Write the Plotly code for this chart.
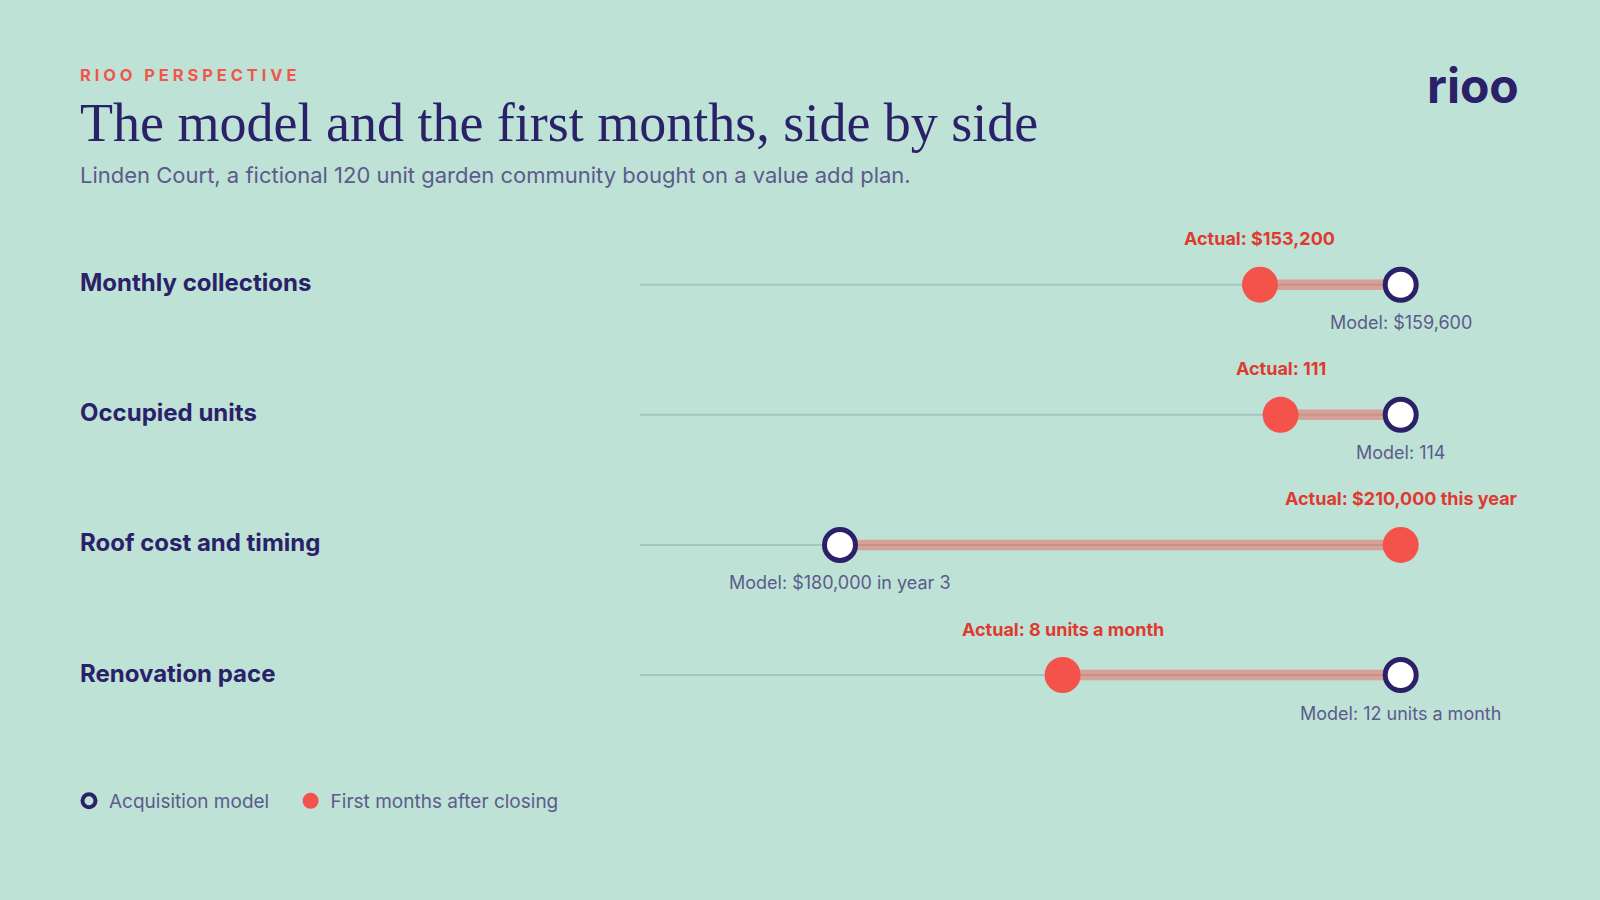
import plotly.graph_objects as go

# ---- data ----
categories = ["Monthly collections", "Occupied units", "Roof cost and timing", "Renovation pace"]
model_values = [159600, 114, 180000, 12]
actual_values = [153200, 111, 210000, 8]
model_labels = ["Model: $159,600", "Model: 114", "Model: $180,000 in year 3", "Model: 12 units a month"]
actual_labels = ["Actual: $153,200", "Actual: 111", "Actual: $210,000 this year", "Actual: 8 units a month"]
# per-row scale (each row has its own axis)
row_scale_low = [125000, 95, 169300, 3]
row_scale_high = [159600, 114, 210000, 12]
legend_names = ["Acquisition model", "First months after closing"]

# ---- style ----
BG = "#bee2d6"
NAVY = "#2b2169"
RED = "#f4534b"
RED_TEXT = "#de3a30"
MUTED = "#5d5a8c"
TRACK = "#a5c5bf"
BAR = "rgba(244,83,75,0.45)"
SANS = "Inter"
SERIF = "Liberation Serif"

W, H = 1600, 900
fig = go.Figure()

annotations = []
shapes = []
for i, cat in enumerate(categories):
    n = "" if i == 0 else str(i + 1)
    xa = "x" + n
    shapes.append(dict(type="line", xref=xa + " domain", yref="y", x0=0, x1=1,
                       y0=cat, y1=cat, line=dict(color=TRACK, width=2), layer="below"))
    fig.add_trace(go.Scatter(x=[actual_values[i], model_values[i]], y=[cat, cat], xaxis=xa, yaxis="y",
                             mode="lines", line=dict(color=BAR, width=10.5), showlegend=False,
                             hoverinfo="skip", cliponaxis=False))
    fig.add_trace(go.Scatter(x=[actual_values[i]], y=[cat], xaxis=xa, yaxis="y", mode="markers",
                             marker=dict(size=36, color=RED, line=dict(width=0)), showlegend=False,
                             name=legend_names[1], cliponaxis=False))
    fig.add_trace(go.Scatter(x=[model_values[i]], y=[cat], xaxis=xa, yaxis="y", mode="markers",
                             marker=dict(size=31, color="white", line=dict(width=5, color=NAVY)),
                             showlegend=False, name=legend_names[0], cliponaxis=False))
    annotations.append(dict(x=actual_values[i], y=cat, xref=xa, yref="y", text="<b>" + actual_labels[i] + "</b>",
                            showarrow=False, yshift=46, xanchor="center", yanchor="middle",
                            font=dict(family=SANS, size=18, color=RED_TEXT)))
    annotations.append(dict(x=model_values[i], y=cat, xref=xa, yref="y", text=model_labels[i],
                            showarrow=False, yshift=-38, xanchor="center", yanchor="middle",
                            font=dict(family=SANS, size=18, color=MUTED)))
    annotations.append(dict(x=78 / W, y=cat, xref="paper", yref="y", text="<b>" + cat + "</b>",
                            showarrow=False, yshift=2, xanchor="left", yanchor="middle",
                            font=dict(family=SANS, size=24, color=NAVY)))

# legend-only traces
fig.add_trace(go.Scatter(x=[None], y=[None], mode="markers", name=legend_names[0] + "\u2002\u2009\u2009",
                         marker=dict(size=13, color=BG, line=dict(width=4, color=NAVY))))
fig.add_trace(go.Scatter(x=[None], y=[None], mode="markers", name=legend_names[1],
                         marker=dict(size=17, color=RED, line=dict(width=0))))

kicker = "\u2009\u200a".join(list("RIOO PERSPECTIVE"))
annotations += [
    dict(x=78 / W, y=1 - 74.9 / H, xref="paper", yref="paper", text="<b>" + kicker + "</b>",
         showarrow=False, xanchor="left", yanchor="middle",
         font=dict(family=SANS, size=16.5, color="#f0564c")),
    dict(x=78 / W, y=1 - 123 / H, xref="paper", yref="paper",
         text="The model and the first months, side by side",
         showarrow=False, xanchor="left", yanchor="middle",
         font=dict(family=SERIF, size=54, color=NAVY)),
    dict(x=78 / W, y=1 - 175.4 / H, xref="paper", yref="paper",
         text="Linden Court, a fictional 120 unit garden community bought on a value add plan.",
         showarrow=False, xanchor="left", yanchor="middle",
         font=dict(family=SANS, size=22, color=MUTED)),
    dict(x=1521 / W, y=1 - 85 / H, xref="paper", yref="paper", text="<b>rioo</b>",
         showarrow=False, xanchor="right", yanchor="middle",
         font=dict(family=SANS, size=48, color=NAVY)),
]

row0, step = 284.7, 130.1
layout_axes = {}
dom = [640 / W, 1400.7 / W]
for i in range(len(categories)):
    key = "xaxis" if i == 0 else "xaxis%d" % (i + 1)
    ax = dict(domain=dom, range=[row_scale_low[i], row_scale_high[i]], visible=False,
              anchor="y", fixedrange=True)
    if i > 0:
        ax["overlaying"] = "x"
    layout_axes[key] = ax

fig.update_layout(
    width=W, height=H, margin=dict(l=0, r=0, t=0, b=0),
    paper_bgcolor=BG, plot_bgcolor="rgba(0,0,0,0)",
    yaxis=dict(domain=[0, 1], type="category", categoryorder="array", categoryarray=categories,
               range=[(H - row0) / step, -row0 / step], visible=False, fixedrange=True),
    annotations=annotations, shapes=shapes,
    showlegend=True,
    legend=dict(orientation="h", x=69 / W, xanchor="left", y=1 - 801 / H, yanchor="middle",
                bgcolor="rgba(0,0,0,0)", font=dict(family=SANS, size=19, color=MUTED),
                itemsizing="trace"),
    **layout_axes,
)

fig.write_html("out.html")
